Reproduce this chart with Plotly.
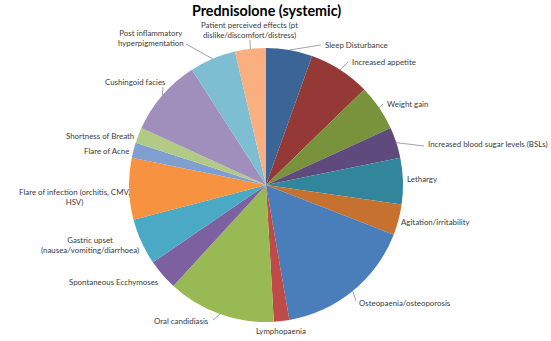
import math
import plotly.graph_objects as go

categories = [
    "Sleep Disturbance", "Increased appetite", "Weight gain",
    "Increased blood sugar levels (BSLs)", "Lethargy", "Agitation/irritability",
    "Osteopaenia/osteoporosis", "Lymphopaenia", "Oral candidiasis",
    "Spontaneous Ecchymoses", "Gastric upset<br>(nausea/vomiting/diarrhoea)",
    "Flare of infection (orchitis, CMV,<br>HSV)", "Flare of Acne",
    "Shortness of Breath", "Cushingoid facies",
    "Post inflammatory<br>hyperpigmentation",
    "Patient perceived effects (pt<br>dislike/discomfort/distress)",
]
values = [3, 4, 3, 2, 3, 2, 9, 1, 7, 2, 3, 4, 1, 1, 5, 3, 2]
colors = ["#3C6597", "#953937", "#78933C", "#5E4A7C", "#32869C", "#C6712F",
          "#4A7EBB", "#BE4B48", "#98B954", "#7D60A0", "#4AA9C4", "#F69240",
          "#7F9FD0", "#B3CA87", "#A08EBC", "#7EBED2", "#F9AF80"]

# label layout (pixel positions in the window) and whether a leader line is drawn
label_pos = [  # (x, y, xanchor, leader)
    (323, 45, "left", True), (350, 62, "left", True), (385, 104, "left", True),
    (426, 144, "left", True), (405, 179, "left", False), (399, 222, "left", False),
    (357, 303, "left", True), (281, 331, "center", False), (211, 321, "right", True),
    (161, 282, "right", False), (90, 245, "center", False), (74, 197, "center", False),
    (131, 151, "right", False), (136, 136, "right", False), (135, 82, "center", True),
    (151, 38, "center", True), (249, 30, "center", True),
]
leader_end = {0: (321, 45), 1: (348, 62), 2: (383, 104), 3: (424, 146),
              6: (356, 301), 8: (213, 320), 14: (163, 87), 15: (186, 44), 16: (250, 40)}

W, H = 551, 341
cx, cy, R = 266, 185, 137

def px(x):
    return x / W

def py(y):
    return 1 - y / H

fig = go.Figure(go.Pie(
    labels=categories, values=values, sort=False, direction="clockwise",
    rotation=0, marker=dict(colors=colors, line=dict(width=0)),
    textinfo="none", hoverinfo="label+value", showlegend=False,
    domain=dict(x=[px(cx - R), px(cx + R)], y=[py(cy + R), py(cy - R)]),
))

FONT = "Lato, sans-serif"
total = sum(values)
cum = 0
annotations = []
shapes = []
for i, (lab, v) in enumerate(zip(categories, values)):
    mid = (cum + v / 2) / total * 2 * math.pi
    cum += v
    ex, ey = cx + R * math.sin(mid), cy - R * math.cos(mid)
    lx, ly, xa, leader = label_pos[i]
    annotations.append(dict(
        x=px(lx), y=py(ly), xref="paper", yref="paper", text=lab,
        showarrow=False, xanchor=xa, yanchor="middle", align="center",
        font=dict(family=FONT, size=7.9, color="#3A3A3A"),
    ))
    if leader:
        lx2, ly2 = leader_end[i]
        shapes.append(dict(type="line", xref="paper", yref="paper",
                           x0=px(ex), y0=py(ey), x1=px(lx2), y1=py(ly2),
                           line=dict(color="#8C8C8C", width=0.8)))

annotations.append(dict(
    x=px(266), y=py(11), xref="paper", yref="paper",
    text="<b>Prednisolone (systemic)</b>", showarrow=False,
    xanchor="center", yanchor="middle",
    font=dict(family="Lato", size=14.3, color="#000000"),
))

fig.update_layout(
    width=W, height=H, margin=dict(l=0, r=0, t=0, b=0),
    paper_bgcolor="white", plot_bgcolor="white",
    annotations=annotations, shapes=shapes,
)
fig.write_html(
    "out.html",
    config={"displayModeBar": False},
    post_script="document.body.style.margin='0px';document.body.style.overflow='hidden';",
)
